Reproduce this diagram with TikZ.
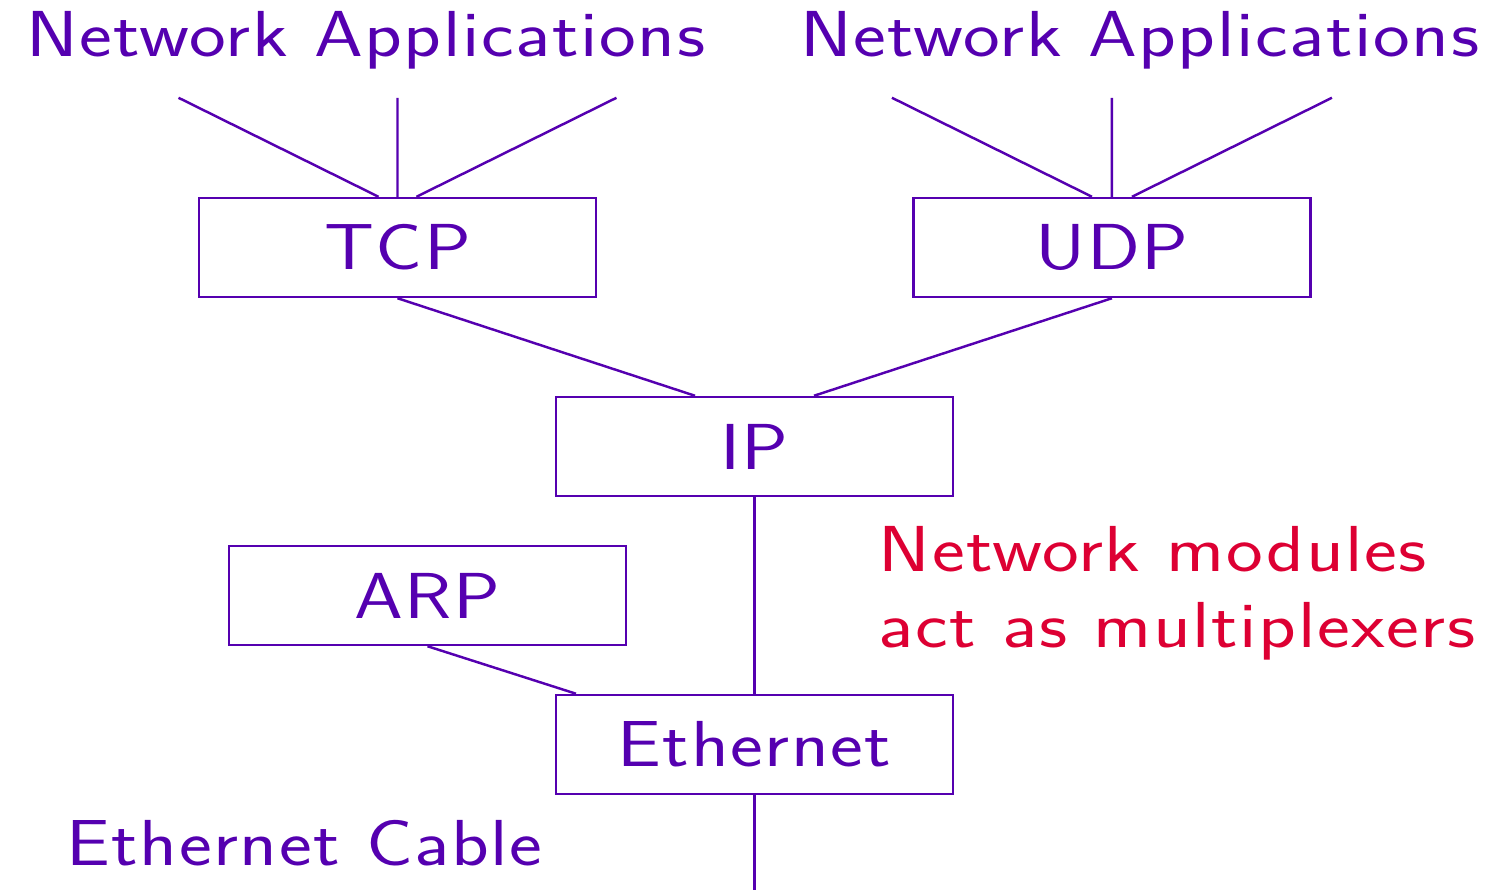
\documentclass[tikz,border=0pt]{standalone}
\usepackage{fontspec}
\usetikzlibrary{positioning}

\definecolor{netpurple}{RGB}{85,0,176}
\definecolor{netred}{RGB}{221,0,51}
\newfontfamily\slidesans{Latin Modern Sans}[FakeStretch=1.2,LetterSpace=2.5]
\newcommand{\slidefont}{\slidesans\fontsize{37}{46}\selectfont}

\begin{document}
\begin{tikzpicture}[line width=1.4pt, netpurple,
	box/.style={draw, minimum width=7.94cm, minimum height=1.98cm, inner sep=0pt, font=\slidefont},
	label/.style={anchor=base west, inner sep=0pt, font=\slidefont}]
	\useasboundingbox (0,0) rectangle (29.92,17.8);

	\node[box] (tcp) at (7.95,12.85) {TCP};
	\node[box, right=6.3cm of tcp] (udp) {UDP};
	\node[box] (ip) at (15.09,8.87) {IP};
	\node[box, below=3.93cm of ip] (eth) {Ethernet};
	\node[box] (arp) at (8.55,5.89) {ARP};

	\node[label] (appl) at (0.5,16.66) {Network Applications};
	\node[label] (appr) at (15.98,16.66) {Network Applications};
	\node[label, netred] (mux1) at (17.55,6.36) {Network modules};
	\node[label, netred] (mux2) at (17.55,4.85) {act as multiplexers};
	\node[label] (cable) at (1.3,0.5) {Ethernet Cable};

	\coordinate (wire) at (15.09,0);

	% applications on top of tcp and udp
	\draw
		([xshift=-0.38cm]tcp.north) -- +(-4,1.98)
		(tcp.north) -- +(0,1.98)
		([xshift=0.38cm]tcp.north) -- +(4,1.98)
		([xshift=-0.4cm]udp.north) -- +(-4,1.98)
		(udp.north) -- +(0,1.98)
		([xshift=0.4cm]udp.north) -- +(4,1.98);

	\draw
		(tcp.south) edge ([xshift=-1.19cm]ip.north)
		(udp.south) edge ([xshift=1.19cm]ip.north)
		(ip.south) edge (eth.north)
		(arp.south) edge ([xshift=-3.57cm]eth.north)
		(eth.south) edge (wire)
		;
\end{tikzpicture}
\end{document}
